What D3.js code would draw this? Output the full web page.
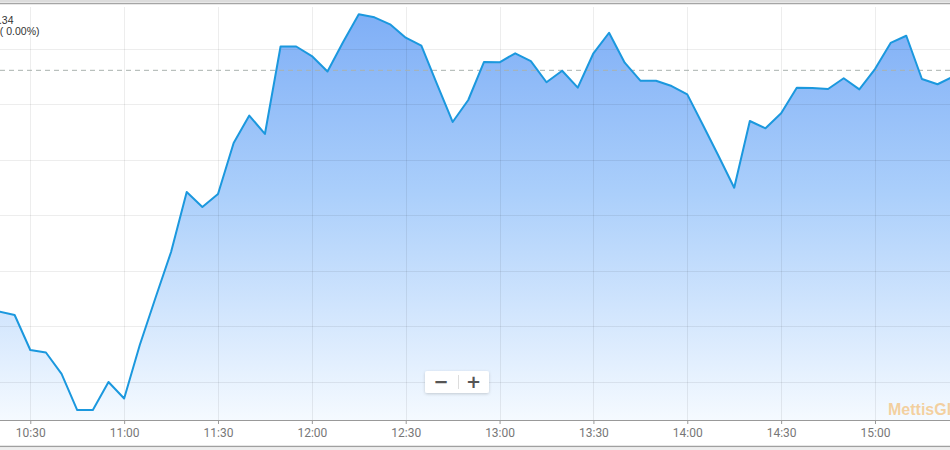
<!DOCTYPE html>
<html>
<head>
<meta charset="utf-8">
<script src="https://cdn.jsdelivr.net/npm/d3@7"></script>
<style>
body { margin: 0; background: #fff; }
svg { display: block; font-family: Roboto, "Liberation Sans", sans-serif; }
</style>
</head>
<body>
<div id="chart"></div>
<script>
// intraday index, 5 minute points
var times = ["10:20","10:25","10:30","10:35","10:40","10:45","10:50","10:55",
    "11:00","11:05","11:10","11:15","11:20","11:25","11:30","11:35","11:40","11:45","11:50","11:55",
    "12:00","12:05","12:10","12:15","12:20","12:25","12:30","12:35","12:40","12:45","12:50","12:55",
    "13:00","13:05","13:10","13:15","13:20","13:25","13:30","13:35","13:40","13:45","13:50","13:55",
    "14:00","14:05","14:10","14:15","14:20","14:25","14:30","14:35","14:40","14:45","14:50","14:55",
    "15:00","15:05","15:10","15:15","15:20","15:25"];

var values = [41863.1, 41859.9, 41828.4, 41826.1, 41806.8, 41774.3, 41774.3, 41799.6,
    41784.7, 41832.9, 41875.2, 41916.7, 41970.7, 41957.2, 41968.9, 42014.9, 42039.6, 42023.0, 42101.8, 42101.8,
    42093.2, 42079.3, 42105.9, 42130.8, 42128.1, 42121.8, 42109.7, 42102.5, 42068.0, 42033.8, 42053.6, 42087.8,
    42087.6, 42095.7, 42088.7, 42069.6, 42080.0, 42064.7, 42095.7, 42114.2, 42087.2, 42071.0, 42071.0, 42066.2,
    42058.7, 42031.1, 42003.2, 41974.6, 42034.7, 42028.1, 42041.6, 42064.7, 42064.4, 42063.5, 42073.2, 42063.2,
    42081.5, 42105.0, 42111.5, 42072.5, 42067.8, 42074.8];

var prevClose = 42080.34;
var yTicks = [41800, 41850, 41900, 41950, 42000, 42050, 42100];
var lastLabel = "42,080.34";
var changeLabel = "0.00 ( 0.00%)";
var watermark = "MettisGlobal";

var width = 950, height = 450;
var axisY = 420;

var parseTime = d3.timeParse("%H:%M");
var data = times.map(function(t, i) { return {date: parseTime(t), value: values[i]}; });

var x = d3.scaleTime()
    .domain([parseTime("10:20"), parseTime("15:25")])
    .range([-1, 953.2]);

var y = d3.scaleLinear()
    .domain([41800, 42100])
    .range([381.5, 48.5]);

var svg = d3.select("#chart").append("svg")
    .attr("width", width)
    .attr("height", height);

var defs = svg.append("defs");

var grad = defs.append("linearGradient")
    .attr("id", "areaGrad")
    .attr("gradientUnits", "userSpaceOnUse")
    .attr("x1", 0).attr("x2", 0)
    .attr("y1", 10).attr("y2", axisY);
grad.append("stop").attr("offset", "0%").attr("stop-color", "#7eaef6");
grad.append("stop").attr("offset", "45%").attr("stop-color", "#abcffb");
grad.append("stop").attr("offset", "100%").attr("stop-color", "#f5faff");

var shadow = defs.append("filter").attr("id", "btnShadow")
    .attr("x", "-20%").attr("y", "-30%").attr("width", "140%").attr("height", "170%");
shadow.append("feDropShadow")
    .attr("dx", 0).attr("dy", 1).attr("stdDeviation", 1.5)
    .attr("flood-color", "#000").attr("flood-opacity", 0.18);

svg.append("rect").attr("width", width).attr("height", height).attr("fill", "#fff");

var xTicks = x.ticks(d3.timeMinute.every(30));

// area + line
var area = d3.area()
    .x(function(d) { return x(d.date); })
    .y0(axisY)
    .y1(function(d) { return y(d.value); });

var line = d3.line()
    .x(function(d) { return x(d.date); })
    .y(function(d) { return y(d.value); });

svg.append("path")
    .datum(data)
    .attr("fill", "url(#areaGrad)")
    .attr("d", area);

// grid on top, faint
var grid = svg.append("g").attr("stroke", "rgba(0,0,0,0.07)").attr("stroke-width", 1);
grid.selectAll(".vgrid")
    .data(xTicks)
    .enter().append("line")
    .attr("x1", function(d) { return Math.round(x(d)) + 0.5; })
    .attr("x2", function(d) { return Math.round(x(d)) + 0.5; })
    .attr("y1", 7)
    .attr("y2", axisY);
grid.selectAll(".hgrid")
    .data(yTicks)
    .enter().append("line")
    .attr("x1", 0)
    .attr("x2", width)
    .attr("y1", function(d) { return Math.round(y(d)) + 0.5; })
    .attr("y2", function(d) { return Math.round(y(d)) + 0.5; });

// previous close
svg.append("line")
    .attr("x1", 0).attr("x2", width)
    .attr("y1", y(prevClose)).attr("y2", y(prevClose))
    .attr("stroke", "#aab2ae")
    .attr("stroke-width", 1)
    .attr("stroke-dasharray", "5,4");

svg.append("path")
    .datum(data)
    .attr("fill", "none")
    .attr("stroke", "#1b98de")
    .attr("stroke-width", 2)
    .attr("stroke-linejoin", "round")
    .attr("d", line);

// x axis
var xAxis = d3.axisBottom(x)
    .tickValues(xTicks)
    .tickFormat(d3.timeFormat("%H:%M"))
    .tickSize(4)
    .tickPadding(4);

var gx = svg.append("g")
    .attr("transform", "translate(0," + axisY + ")")
    .call(xAxis);
gx.select(".domain").remove();
gx.selectAll(".tick line").attr("stroke", "#999");
gx.selectAll(".tick text")
    .attr("fill", "#777")
    .style("font-size", "12px")
    .style("font-family", "Roboto, sans-serif");

svg.append("line")
    .attr("x1", 0).attr("x2", width)
    .attr("y1", axisY + 0.5).attr("y2", axisY + 0.5)
    .attr("stroke", "#999");

// frame lines top and bottom
svg.append("line").attr("x1", 0).attr("x2", width).attr("y1", 1).attr("y2", 1)
    .attr("stroke", "#dcdcdc").attr("stroke-width", 2);
svg.append("line").attr("x1", 0).attr("x2", width).attr("y1", 3.5).attr("y2", 3.5)
    .attr("stroke", "#a5a5a5").attr("stroke-width", 1.5);
svg.append("line").attr("x1", 0).attr("x2", width).attr("y1", 446.5).attr("y2", 446.5)
    .attr("stroke", "#a0a0a0").attr("stroke-width", 1.5);
svg.append("rect").attr("x", 0).attr("y", 447.5).attr("width", width).attr("height", 3)
    .attr("fill", "#eeeeee");

// value readout, cut at left edge
svg.append("text")
    .attr("x", 13.5).attr("y", 23.5)
    .attr("text-anchor", "end")
    .style("font-family", "'Liberation Sans', Arial, sans-serif")
    .style("font-size", "10.5px")
    .attr("fill", "#333")
    .text(lastLabel);
svg.append("text")
    .attr("x", 39.5).attr("y", 35)
    .attr("text-anchor", "end")
    .style("font-family", "'Liberation Sans', Arial, sans-serif")
    .style("font-size", "10.5px")
    .attr("fill", "#333")
    .text(changeLabel);

// zoom buttons
var zb = svg.append("g").attr("transform", "translate(425,371)");
zb.append("rect")
    .attr("width", 64).attr("height", 22).attr("rx", 2)
    .attr("fill", "#fff")
    .attr("filter", "url(#btnShadow)");
zb.append("line")
    .attr("x1", 33.5).attr("x2", 33.5).attr("y1", 4).attr("y2", 18)
    .attr("stroke", "#ddd");
zb.append("text")
    .attr("x", 16).attr("y", 17)
    .attr("text-anchor", "middle")
    .style("font-family", "'DejaVu Sans', sans-serif")
    .style("font-size", "18px")
    .style("font-weight", "bold")
    .attr("fill", "#555")
    .text("\u2212");
zb.append("text")
    .attr("x", 48.5).attr("y", 17)
    .attr("text-anchor", "middle")
    .style("font-family", "'DejaVu Sans', sans-serif")
    .style("font-size", "18px")
    .style("font-weight", "bold")
    .attr("fill", "#555")
    .text("+");

// watermark
svg.append("text")
    .attr("x", 888).attr("y", 415)
    .style("font-family", "'Liberation Sans', Arial, sans-serif")
    .style("font-size", "16px")
    .style("font-weight", "bold")
    .attr("fill", "#f4b55e")
    .attr("fill-opacity", 0.6)
    .text(watermark);
</script>
</body>
</html>
